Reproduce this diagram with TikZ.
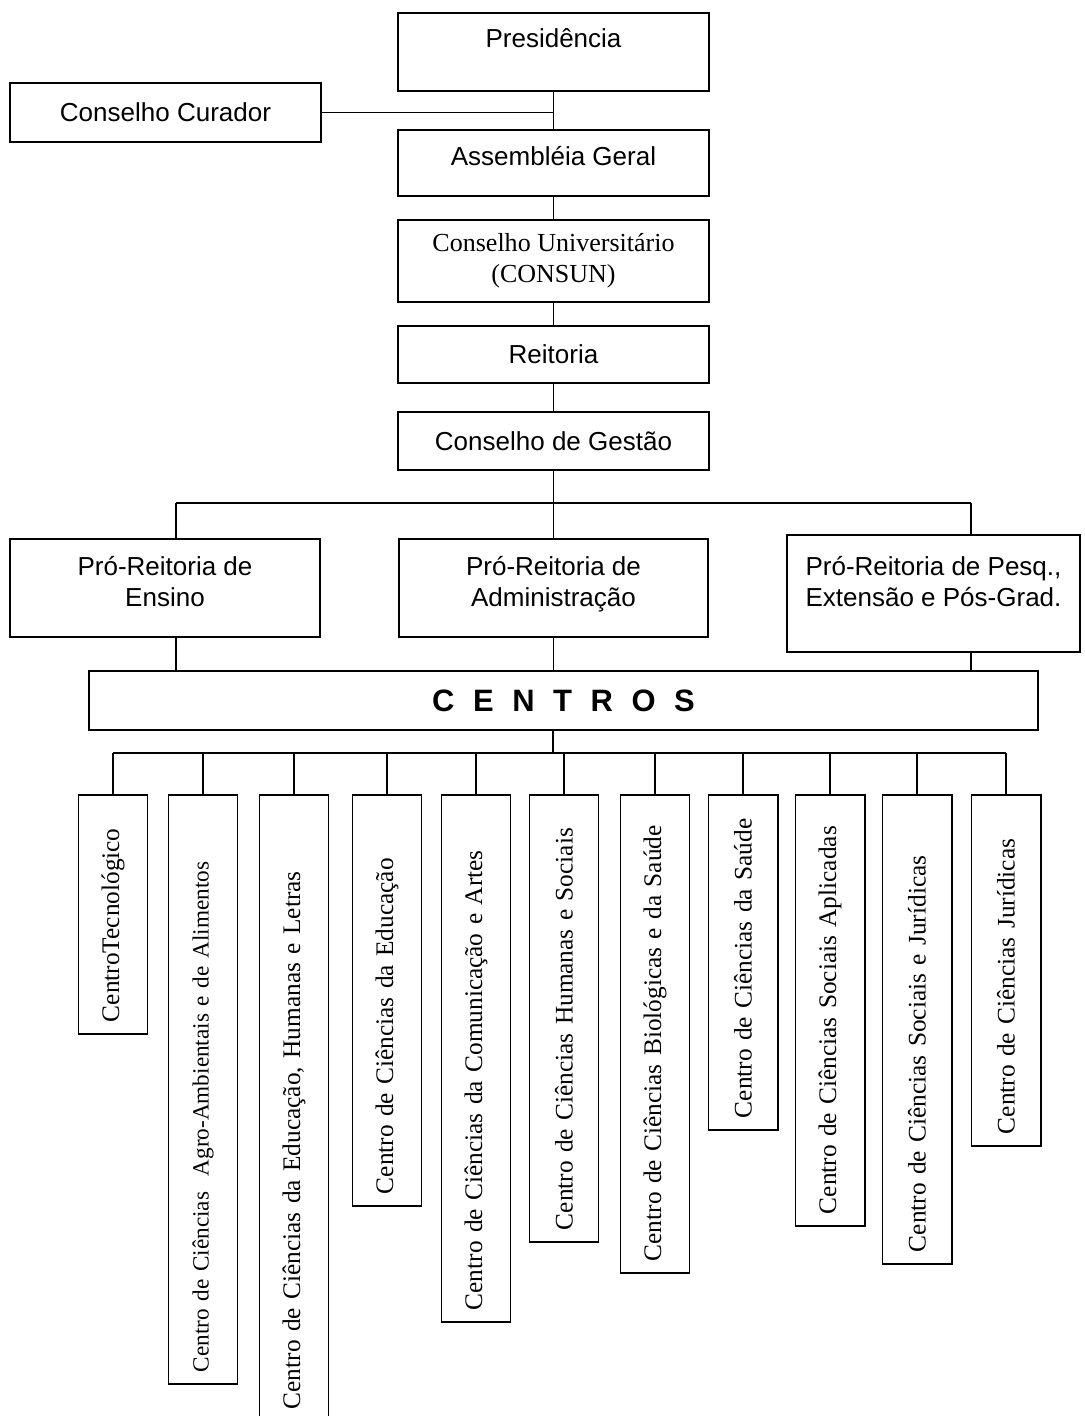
\documentclass[tikz,border=0pt]{standalone}
\usepackage{fontspec}
\setmainfont{Liberation Serif}
\newfontfamily\arialfont{Liberation Sans}
\usepackage{tikz}
\tikzstyle{orgao} = [draw,line width=1.4pt,align=center,minimum width=7.775cm,font=\arialfont\fontsize{18.5}{22}\selectfont]
\tikzstyle{centro} = [draw,line width=1.4pt,rotate=90,anchor=east,minimum height=1.725cm,inner xsep=0.3cm,align=left,font=\fontsize{18}{22}\selectfont]
\tikzstyle{liga} = [line width=1.4pt]

\begin{document}
\begin{tikzpicture}[x=0.025cm,y=-0.025cm]
	\clip (0,0) rectangle (1085,1416);
	\node[orgao,minimum height=1.95cm,text depth=0.7cm] (pres) at (553.5,52) {Presidência};
	\node[orgao,minimum height=1.475cm] (curador) at (165.5,112.5) {Conselho Curador};
	\node[orgao,minimum height=1.65cm,text depth=0.35cm] (assemb) at (553.5,163) {Assembléia Geral};
	\node[orgao,minimum height=2.05cm,font=\fontsize{18.5}{22}\selectfont] (consun) at (553.5,261) {Conselho Universitário\\(CONSUN)};
	\node[orgao,minimum height=1.425cm] (reit) at (553.5,354.5) {Reitoria};
	\node[orgao,minimum height=1.45cm] (gestao) at (553.5,441) {Conselho de Gestão};
	\node[orgao,minimum width=7.75cm,minimum height=2.45cm,text depth=0.35cm] (ensino) at (165,588) {Pró-Reitoria de\\Ensino};
	\node[orgao,minimum width=7.725cm,minimum height=2.45cm,text depth=0.35cm] (admin) at (553.5,588) {Pró-Reitoria de\\Administração};
	\node[orgao,minimum width=7.325cm,minimum height=2.925cm,text depth=0.6cm] (pesq) at (933.5,593.5) {Pró-Reitoria de Pesq.,\\Extensão e Pós-Grad.};
	\node[orgao,minimum width=23.725cm,minimum height=1.475cm,font=\arialfont\bfseries\fontsize{22}{26}\selectfont] (centros) at (563.5,700.5) {C\hspace{0.6em}E\hspace{0.6em}N\hspace{0.6em}T\hspace{0.6em}R\hspace{0.6em}O\hspace{0.6em}S};

	\node[centro,text width=5.375cm] (c1) at (113,794) {CentroTecnológico};
	\node[centro,text width=14.125cm,font=\fontsize{16.5}{20}\selectfont] (c2) at (203,794) {Centro de Ciências\ \ Agro-Ambientais e de Alimentos};
	\node[centro,text width=15.05cm] (c3) at (294,794) {Centro de Ciências da Educação, Humanas e Letras};
	\node[centro,text width=9.675cm] (c4) at (387,794) {Centro de Ciências da Educação};
	\node[centro,text width=12.575cm] (c5) at (476,794) {Centro de Ciências da Comunicação e Artes};
	\node[centro,text width=10.575cm] (c6) at (564,794) {Centro de Ciências Humanas e Sociais};
	\node[centro,text width=11.35cm] (c7) at (655,794) {Centro de Ciências Biológicas e da Saúde};
	\node[centro,text width=7.775cm] (c8) at (743,794) {Centro de Ciências da Saúde};
	\node[centro,text width=10.175cm] (c9) at (830,794) {Centro de Ciências Sociais Aplicadas};
	\node[centro,text width=11.125cm] (c10) at (917,794) {Centro de Ciências Sociais e Jurídicas};
	\node[centro,text width=8.175cm] (c11) at (1006,794) {Centro de Ciências Jurídicas};

	\coordinate (pl) at (176,503);
	\coordinate (pr) at (971,503);
	\coordinate (cbar) at (553,753);

	\draw[liga] (pres.south) -- (assemb.north);
	\draw[liga] (curador.east) -- (curador.east -| pres.south);
	\draw[liga] (assemb.south) -- (consun.north);
	\draw[liga] (consun.south) -- (reit.north);
	\draw[liga] (reit.south) -- (gestao.north);
	\draw[liga] (gestao.south) -- (admin.north);
	\draw[liga] (pl) -- (pr);
	\draw[liga] (pl) -- (pl |- ensino.north);
	\draw[liga] (pr) -- (pr |- pesq.north);
	\draw[liga] (pl |- ensino.south) -- (pl |- centros.north);
	\draw[liga] (admin.south) -- (admin.south |- centros.north);
	\draw[liga] (pr |- pesq.south) -- (pr |- centros.north);
	\draw[liga] (centros.south -| cbar) -- (cbar);
	\draw[liga] (c1.east |- cbar) -- (c11.east |- cbar);
	\foreach \i in {1,...,11}
		\draw[liga] (c\i.east |- cbar) -- (c\i.east);
\end{tikzpicture}
\end{document}
